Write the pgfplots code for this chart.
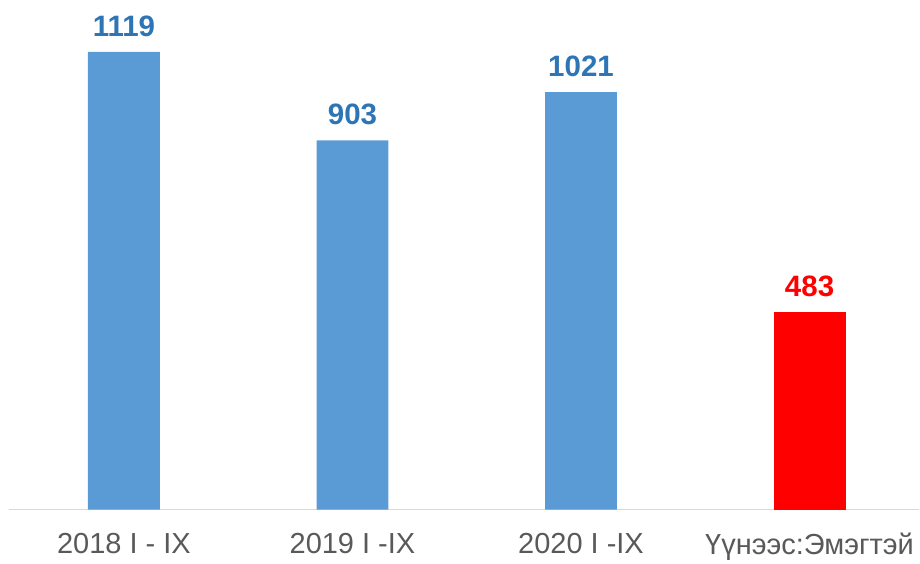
\documentclass[border=0pt]{standalone}
\usepackage{fontspec}
\setmainfont{Liberation Sans}
\usepackage{pgfplots}
\pgfplotsset{compat=1.18}
\definecolor{barblue}{HTML}{5B9BD5}
\definecolor{lblblue}{HTML}{2E75B6}
\definecolor{lblgray}{HTML}{595959}
\definecolor{axgray}{HTML}{D9D9D9}
\begin{document}
\begin{tikzpicture}
\begin{axis}[
  scale only axis,
  width=911pt, height=510pt,
  xmin=-0.503, xmax=3.48,
  ymin=0, ymax=1246,
  axis x line*=bottom,
  axis y line=none,
  x axis line style={draw=axgray, line width=1.5pt, -},
  xtick={0,1,2,3},
  xticklabels={2018 I - IX, 2019 I -IX, 2020 I -IX, Үүнээс:Эмэгтэй},
  major tick length=0pt,
  xticklabel style={font=\fontsize{29}{33}\selectfont, text=lblgray, yshift=-20pt},
  ybar, bar width=72pt, bar shift=0pt,
  /pgf/number format/.cd, 1000 sep={}, assume math mode=true,
  /pgfplots/.cd,
  nodes near coords,
  nodes near coords style={font=\fontsize{29.5}{33}\selectfont\bfseries, anchor=south, yshift=12pt},
  clip=false,
]
\coordinate (bl) at (rel axis cs:0,0);
\addplot[fill=barblue, draw=none, nodes near coords style={text=lblblue}] coordinates {(0,1119) (1,903) (2,1021)};
\addplot[fill=red, draw=none, nodes near coords style={text=red}] coordinates {(3,483)};
\end{axis}
\path (bl) ++(-9pt,-49pt) rectangle ++(920pt,559pt);
\end{tikzpicture}
\end{document}
